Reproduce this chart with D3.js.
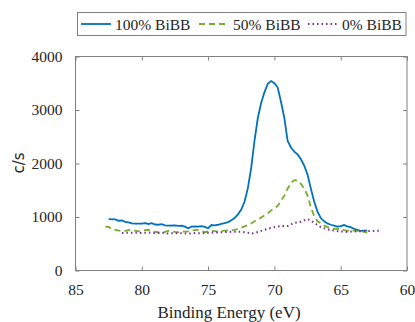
<!DOCTYPE html>
<html><head><meta charset="utf-8">
<script src="https://cdn.jsdelivr.net/npm/d3@7"></script>
<style>body{margin:0;background:#fff}svg{display:block}</style>
</head><body><svg id="c" width="415" height="322"></svg>
<script>
const seriesNames = ["100% BiBB", "50% BiBB", "0% BiBB"];
const xTicks = [85, 80, 75, 70, 65, 60];
const yTicks = [0, 1000, 2000, 3000, 4000];

const e100 = [82.5,82.0,81.75,81.5,81.25,81.0,80.75,80.5,80.0,79.75,79.5,79.25,79.0,78.75,78.5,78.25,78.0,77.5,77.25,77.0,76.75,76.5,76.25,76.0,75.75,75.5,75.25,75.0,74.75,74.5,74.25,74.0,73.75,73.5,73.25,73.0,72.75,72.5,72.25,72.0,71.75,71.5,71.25,71.0,70.75,70.5,70.25,70.0,69.75,69.5,69.25,69.0,68.75,68.5,68.25,68.0,67.75,67.5,67.25,67.0,66.75,66.5,66.25,66.0,65.75,65.5,65.25,65.0,64.75,64.5,64.25,64.0,63.75,63.5,63.25,63.0];
const v100 = [960,955,930,935,910,900,880,875,875,885,870,885,860,855,865,845,840,845,835,840,820,790,820,825,820,830,815,790,850,845,855,870,885,905,940,980,1050,1140,1290,1540,1920,2430,2850,3130,3330,3490,3540,3500,3420,3150,2850,2420,2300,2220,2170,2080,1960,1790,1530,1290,1100,980,920,880,855,840,820,830,850,825,810,780,760,740,745,745];

const e50 = [82.75,82.5,82.25,82.0,81.75,81.5,81.25,81.0,80.75,80.5,80.25,80.0,79.75,79.5,79.25,79.0,78.75,78.5,78.25,78.0,77.75,77.5,77.25,77.0,76.75,76.5,76.25,76.0,75.75,75.5,75.25,75.0,74.75,74.5,74.25,74.0,73.75,73.5,73.0,72.75,72.5,72.25,72.0,71.75,71.5,71.25,71.0,70.75,70.5,70.25,70.0,69.75,69.5,69.25,69.0,68.75,68.5,68.25,68.0,67.75,67.5,67.25,67.0,66.75,66.5,66.25,66.0,65.75,65.5,65.25,65.0,64.75,64.5,64.25,64.0,63.75,63.5,63.25,63.0];
const v50 = [820,815,770,760,745,745,740,755,760,745,730,735,755,760,750,720,715,700,720,740,735,720,715,730,725,730,745,755,760,745,715,730,740,735,725,740,745,750,760,775,800,825,850,880,920,945,990,1030,1070,1120,1160,1210,1300,1400,1530,1640,1690,1680,1620,1530,1400,1180,1020,920,880,840,810,790,780,780,765,755,740,760,745,740,735,720,710];

const e0 = [81.5,81.0,80.5,80.0,79.5,79.0,78.5,78.0,77.5,77.0,76.5,76.0,75.5,75.0,74.5,74.0,73.5,73.0,72.5,72.0,71.75,71.5,71.0,70.5,70.0,69.5,69.0,68.75,68.5,68.0,67.75,67.5,67.25,67.0,66.75,66.5,66.0,65.5,65.0,64.5,64.0,63.5,63.0,62.5,62.0];
const v0 = [700,705,710,700,710,700,705,690,700,695,690,700,695,705,710,715,720,725,725,705,690,700,740,780,810,830,830,860,890,910,940,960,935,890,850,810,770,745,730,720,730,735,740,740,745];

const colors = ["#0072BD", "#77AC30", "#7E2F8E"];
const dashes = [null, "6,4", "1.5,3"];

const svg = d3.select("#c");
const L = 75.5, R = 407, T = 56.5, B = 270.5;
const x = d3.scaleLinear().domain([85, 60]).range([L, R]);
const y = d3.scaleLinear().domain([0, 4000]).range([B, T]);
const font = "'Liberation Serif', 'Times New Roman', serif";
const txt = "#262626";

svg.append("rect").attr("x", L).attr("y", T).attr("width", R - L).attr("height", B - T)
  .attr("fill", "none").attr("stroke", "#808080").attr("stroke-width", 1);

const ax = (g) => g.call(s => s.select(".domain").remove())
  .call(s => s.selectAll("line").attr("stroke", "#808080"))
  .call(s => s.selectAll("text").attr("fill", txt).style("font-family", font).style("font-size", "15.5px"));

svg.append("g").attr("transform", `translate(0,${B})`)
  .call(d3.axisBottom(x).tickValues(xTicks).tickSizeInner(-4).tickPadding(13).tickFormat(d3.format("d"))).call(ax);
svg.append("g").attr("transform", `translate(0,${T})`)
  .call(d3.axisTop(x).tickValues(xTicks).tickSizeInner(-4).tickFormat("")).call(ax);
svg.append("g").attr("transform", `translate(${L},0)`)
  .call(d3.axisLeft(y).tickValues(yTicks).tickSizeInner(-4).tickPadding(13).tickFormat(d3.format("d"))).call(ax);
svg.append("g").attr("transform", `translate(${R},0)`)
  .call(d3.axisRight(y).tickValues(yTicks).tickSizeInner(-4).tickFormat("")).call(ax);

const data = [[e100, v100], [e50, v50], [e0, v0]];
const line = d3.line().x(d => x(d[0])).y(d => y(d[1]));
data.forEach(([e, v], i) => {
  svg.append("path").datum(e.map((d, j) => [d, v[j]]))
    .attr("d", line).attr("fill", "none").attr("stroke", colors[i])
    .attr("stroke-width", i === 2 ? 2 : 1.8)
    .attr("stroke-dasharray", dashes[i]);
});

svg.append("text").attr("x", 229).attr("y", 318).attr("text-anchor", "middle")
  .style("font-family", font).style("font-size", "17px").attr("fill", txt).text("Binding Energy (eV)");
svg.append("text").attr("transform", `translate(24,163) rotate(-90)`).attr("text-anchor", "middle")
  .style("font-family", "'DejaVu Sans', sans-serif").style("font-size", "15px").attr("fill", txt).text("c/s");

const lg = svg.append("g");
lg.append("rect").attr("x", 77.5).attr("y", 12.5).attr("width", 328.5).attr("height", 23)
  .attr("fill", "#fff").attr("stroke", "#808080").attr("stroke-width", 1);
const lx = [81, 199, 308];
seriesNames.forEach((n, i) => {
  lg.append("line").attr("x1", lx[i]).attr("x2", lx[i] + 30).attr("y1", 24).attr("y2", 24)
    .attr("stroke", colors[i]).attr("stroke-width", i === 2 ? 2 : 1.8).attr("stroke-dasharray", dashes[i]);
  lg.append("text").attr("x", lx[i] + 34).attr("y", 29.5)
    .style("font-family", font).style("font-size", "15.5px").attr("fill", txt).text(n);
});
</script></body></html>
